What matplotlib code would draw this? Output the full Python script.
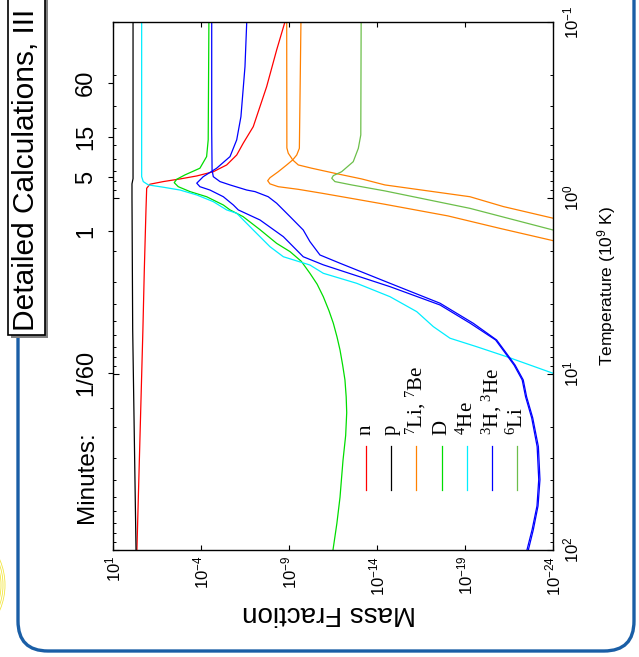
import numpy as np
import matplotlib
matplotlib.use('Agg')
import matplotlib.pyplot as plt
from matplotlib.patches import FancyBboxPatch, Rectangle, Circle
from matplotlib.ticker import NullLocator, NullFormatter

plt.rcParams['font.family'] = ['Liberation Sans', 'DejaVu Sans']
plt.rcParams['mathtext.default'] = 'regular'

# values: log10 T9 and log10 mass fraction
n_logT = [-1.0, -0.841, -0.632, -0.405, -0.311, -0.244, -0.1875, -0.149, -0.125, -0.108, -0.093, -0.078, -0.055, 0.068, 0.41, 0.75, 2.0]
n_logX = [-8.77, -8.30, -7.73, -6.97, -6.40, -6.03, -5.46, -4.70, -3.76, -2.81, -1.86, -1.10, -0.915, -0.875, -0.78, -0.70, -0.36]

p_logT = [-1.0, -0.11, -0.08, 0.0, 0.75, 2.0]
p_logX = [-0.14, -0.14, -0.08, -0.08, -0.12, -0.31]

be7_logT = [-1.0, -0.284, -0.254, -0.226, -0.216, -0.1875, -0.149, -0.115, -0.098, -0.080, -0.064, -0.049, -0.027, 0.006, 0.036, 0.102, 0.173, 0.243]
be7_logX = [-8.87, -8.88, -8.96, -9.15, -9.21, -8.87, -8.39, -7.92, -7.79, -7.92, -8.39, -9.53, -10.86, -12.75, -14.45, -18.03, -20.99, -24.02]

li7_logT = [-1.0, -0.282, -0.244, -0.216, -0.1875, -0.169, -0.140, -0.108, -0.074, -0.007, 0.049, 0.115]
li7_logX = [-9.68, -9.59, -9.44, -9.21, -9.53, -10.29, -11.61, -13.13, -14.45, -19.28, -21.18, -24.0]

d_logT = [-1.0, -0.330, -0.235, -0.169, -0.131, -0.106, -0.087, -0.064, -0.036, -0.007, 0.040, 0.068, 0.106, 0.18, 0.258, 0.305, 0.36, 0.428, 0.49, 0.561, 0.64, 0.712, 0.79, 0.864, 0.95, 1.034, 1.13, 1.22, 1.35, 1.49, 1.60, 1.70, 1.85, 2.0]
d_logX = [-4.45, -4.41, -4.32, -3.94, -3.09, -2.62, -2.48, -2.71, -3.38, -4.32, -5.27, -5.65, -6.39, -7.35, -8.30, -9.06, -9.70, -10.19, -10.60, -10.95, -11.27, -11.52, -11.73, -11.90, -12.05, -12.18, -12.25, -12.28, -12.22, -12.07, -11.98, -11.90, -11.72, -11.50]

he4_logT = [-1.0, -0.121, -0.093, -0.074, -0.061, -0.045, -0.017, 0.021, 0.068, 0.087, 0.18, 0.277, 0.334, 0.381, 0.428, 0.485, 0.561, 0.646, 0.731, 0.797, 0.845, 0.902, 0.996, 1.01]
he4_logX = [-0.63, -0.63, -0.72, -1.01, -1.86, -2.81, -3.76, -4.70, -5.46, -6.03, -6.95, -7.92, -8.68, -10.19, -10.95, -12.85, -14.74, -16.26, -17.2, -18.15, -19.66, -21.37, -24.0, -24.3]

he3_logT = [-1.0, -0.386, -0.159, -0.121, -0.093, -0.074, -0.045, -0.036, -0.007, 0.030, 0.106, 0.182, 0.248, 0.324, 0.371, 0.485, 0.598, 0.712, 0.807, 0.902, 0.95, 1.034, 1.129, 1.25, 1.413, 1.60, 1.75, 1.886, 2.0]
he3_logX = [-4.61, -4.61, -4.63, -4.70, -5.08, -5.65, -6.60, -7.07, -7.82, -8.30, -9.06, -9.81, -10.19, -10.76, -11.90, -14.74, -17.58, -19.47, -20.80, -21.50, -21.85, -22.31, -22.50, -22.85, -23.17, -23.26, -23.15, -22.88, -22.60]

h3_logT = [-1.0, -0.746, -0.462, -0.330, -0.235, -0.169, -0.121, -0.084, -0.064, -0.045, -0.007, 0.040, 0.068, 0.125, 0.22, 0.334, 0.38, 0.504, 0.608, 0.712, 0.807, 0.902, 0.95, 1.034, 1.129, 1.25, 1.413, 1.60, 1.75, 1.886, 2.0]
h3_logX = [-6.60, -6.50, -6.27, -6.03, -5.65, -4.89, -4.13, -3.76, -3.94, -4.51, -5.27, -5.84, -6.12, -7.35, -8.68, -9.81, -10.95, -14.74, -17.58, -19.30, -20.74, -21.44, -21.79, -22.25, -22.44, -22.79, -23.10, -23.19, -23.09, -22.81, -22.52]

li6_logT = [-1.0, -0.358, -0.282, -0.206, -0.149, -0.127, -0.112, -0.093, -0.074, -0.040, 0.059, 0.182]
li6_logX = [-13.1, -13.08, -12.94, -12.65, -11.99, -11.52, -11.43, -11.61, -12.56, -14.45, -19.28, -24.0]

mf_ticks = [1e1, 1e-4, 1e-9, 1e-14, 1e-19, 1e-24]
mf_labels = ['$10^{1}$', '$10^{-4}$', '$10^{-9}$', '$10^{-14}$', '$10^{-19}$', '$10^{-24}$']
temp_ticks = [1e-1, 1e0, 1e1, 1e2]
temp_labels = ['$10^{-1}$', '$10^{0}$', '$10^{1}$', '$10^{2}$']
minute_labels = ['1/60', '1', '5', '15', '60']
minute_T9 = [9.9, 1.55, 0.76, 0.45, 0.223]
minute_minor_T9 = [15.7]

legend_labels = ['n', 'p', '$^{7}$Li, $^{7}$Be', 'D', '$^{4}$He', '$^{3}$H, $^{3}$He', '$^{6}$Li']
legend_colors = ['#ff0000', '#000000', '#ff8000', '#00dd00', '#00eeff', '#0000ff', '#6cbf4a']

curves = [
    (n_logT, n_logX, '#ff0000'),
    (p_logT, p_logX, '#000000'),
    (be7_logT, be7_logX, '#ff8000'),
    (li7_logT, li7_logX, '#ff8000'),
    (d_logT, d_logX, '#00dd00'),
    (he4_logT, he4_logX, '#00eeff'),
    (he3_logT, he3_logX, '#0000ff'),
    (h3_logT, h3_logX, '#0000ff'),
    (li6_logT, li6_logX, '#6cbf4a'),
]

fig = plt.figure(figsize=(6.39, 6.57), dpi=100)

# slide decorations, in pixel coords
bg = fig.add_axes([0, 0, 1, 1], zorder=0)
bg.set_xlim(0, 639)
bg.set_ylim(657, 0)
bg.axis('off')
bg.add_patch(FancyBboxPatch((18, -60), 616, 711, boxstyle='round,pad=0,rounding_size=30',
                            fill=False, ec='#1a5ea6', lw=2.4))
for r in (60, 62, 64):
    bg.add_patch(Circle((-59, 585), r, fill=False, ec='#f2e640', lw=0.6))
bg.add_patch(Rectangle((11, -10), 37, 348, fc='#808080', ec='none'))
bg.add_patch(Rectangle((8, -10), 37, 345, fc='white', ec='black', lw=1.2))
bg.text(26, 331, 'Detailed Calculations, III', rotation=90, ha='center', va='bottom', fontsize=21.5)
bg.text(329, 613, 'Mass Fraction', rotation=180, ha='center', va='center', fontsize=20)
bg.text(607, 286, 'Temperature (10$^{9}$ K)', rotation=90, ha='center', va='center', fontsize=12.5)
bg.text(87, 477, 'Minutes:', rotation=90, ha='center', va='center', fontsize=17.5)

ax = fig.add_axes([0.1768, 0.1629, 0.6886, 0.8037], zorder=2)
ax_m = ax.twinx()

for lt, lx, c in curves:
    ax.plot(10 ** np.array(lx), 10 ** np.array(lt), color=c, lw=0.9)

ax.set_xscale('log')
ax.set_xlim(1e1, 1e-24)
for a in (ax, ax_m):
    a.set_yscale('log')
    a.set_ylim(1e2, 1e-1)

ax.set_xticks(mf_ticks, labels=mf_labels)
ax.xaxis.set_minor_locator(NullLocator())
ax.tick_params(axis='x', direction='in', top=True, bottom=True, length=3.5, width=0.8,
               labelrotation=90, labelsize=12, pad=4)

ax.set_yticks(temp_ticks, labels=temp_labels)
ax.yaxis.set_minor_formatter(NullFormatter())
ax.yaxis.set_ticks_position('both')
ax.tick_params(axis='y', which='both', direction='in', left=True, right=True,
               labelleft=False, labelright=True, labelrotation=90, labelsize=12, pad=6)
ax.tick_params(axis='y', which='major', length=4.5, width=0.8)
ax.tick_params(axis='y', which='minor', length=2.2, width=0.7)
plt.setp(ax.get_yticklabels(), va='center')

ax_m.set_yticks(minute_T9, labels=minute_labels)
ax_m.set_yticks(minute_minor_T9, minor=True)
ax_m.yaxis.set_minor_formatter(NullFormatter())
ax_m.yaxis.set_ticks_position('left')
ax_m.tick_params(axis='y', which='both', direction='out', left=True, right=False,
                 labelleft=True, labelright=False, labelrotation=90, labelsize=17, pad=8)
ax_m.tick_params(axis='y', which='major', length=3.6, width=0.8)
ax_m.tick_params(axis='y', which='minor', length=2.5, width=0.7)
plt.setp(ax_m.get_yticklabels(), va='center')
for s in ax_m.spines.values():
    s.set_visible(False)
for s in ax.spines.values():
    s.set_linewidth(1.0)

# legend drawn by hand, rotated like the rest
for i, (lab, c) in enumerate(zip(legend_labels, legend_colors)):
    lx = 0.575 + i * 0.0573
    ax.plot([lx, lx], [0.114, 0.197], transform=ax.transAxes, color=c, lw=0.9)
    ax.text(lx, 0.218, lab, transform=ax.transAxes, rotation=90, ha='center', va='bottom',
            fontsize=15, family='Liberation Serif')

fig.savefig('out.png', dpi=100)
